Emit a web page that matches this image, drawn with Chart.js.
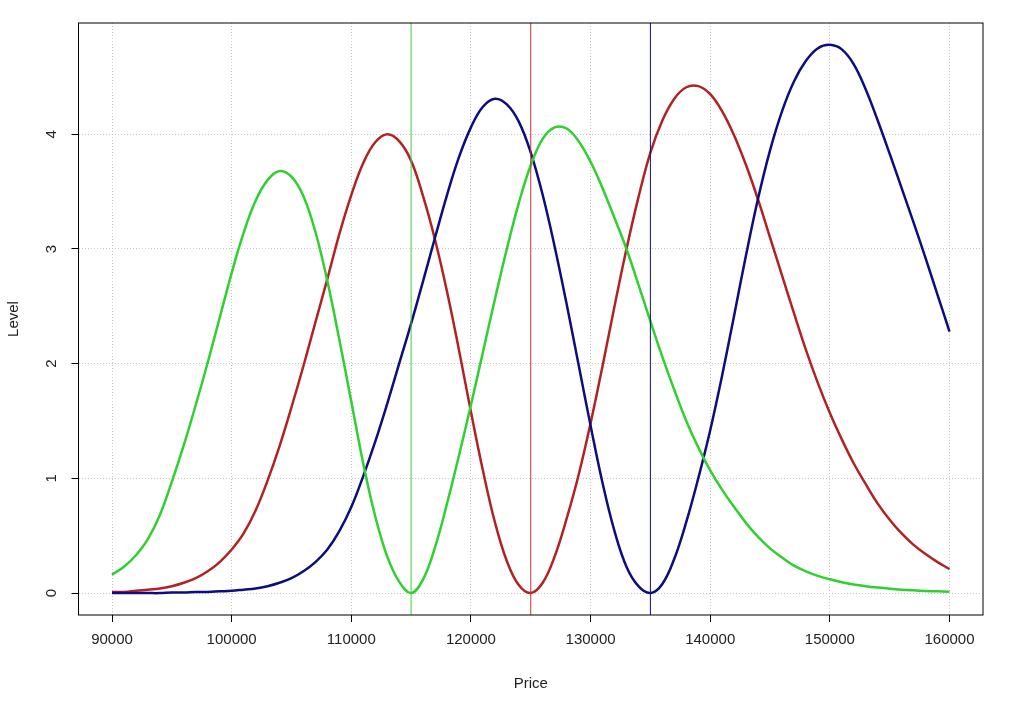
<!DOCTYPE html>
<html>
<head>
<meta charset="utf-8">
<title>Level by Price</title>
<script src="https://cdn.jsdelivr.net/npm/chart.js@4"></script>
<style>
    html, body { margin: 0; padding: 0; background: #ffffff; }
    canvas { display: block; }
</style>
</head>
<body>
<canvas id="levelChart" width="1024" height="713"></canvas>
<script>
/** Level curves by price. */

const prices = [
    90000, 91000, 92000, 93000, 94000, 95000, 96000, 97000, 98000, 99000,
    100000, 101000, 102000, 103000, 104000, 105000, 106000, 107000, 108000, 109000,
    110000, 111000, 112000, 113000, 114000, 115000, 116000, 117000, 118000, 119000,
    120000, 121000, 122000, 123000, 124000, 125000, 126000, 127000, 128000, 129000,
    130000, 131000, 132000, 133000, 134000, 135000, 136000, 137000, 138000, 139000,
    140000, 141000, 142000, 143000, 144000, 145000, 146000, 147000, 148000, 149000,
    150000, 151000, 152000, 153000, 154000, 155000, 156000, 157000, 158000, 159000,
    160000
];

const greenLevel = [
    0.16, 0.23, 0.33, 0.47, 0.68, 0.97, 1.29, 1.64, 2.01, 2.40,
    2.79, 3.14, 3.42, 3.60, 3.68, 3.63, 3.46, 3.15, 2.72, 2.21,
    1.67, 1.13, 0.67, 0.32, 0.10, 0.00, 0.12, 0.40, 0.78, 1.20,
    1.64, 2.10, 2.56, 3.00, 3.40, 3.73, 3.96, 4.06, 4.05, 3.94,
    3.76, 3.53, 3.27, 3.00, 2.69, 2.37, 2.06, 1.77, 1.50, 1.27,
    1.07, 0.90, 0.75, 0.61, 0.49, 0.39, 0.31, 0.24, 0.19, 0.15,
    0.12, 0.095, 0.075, 0.06, 0.048, 0.038, 0.03, 0.024, 0.019, 0.015,
    0.012
];

const redLevel = [
    0.01, 0.01, 0.02, 0.03, 0.04, 0.06, 0.09, 0.13, 0.19, 0.27,
    0.38, 0.52, 0.72, 0.98, 1.28, 1.62, 1.98, 2.36, 2.74, 3.13,
    3.47, 3.75, 3.93, 4.00, 3.94, 3.77, 3.46, 3.08, 2.63, 2.12,
    1.58, 1.07, 0.62, 0.28, 0.07, 0.00, 0.09, 0.32, 0.65, 1.03,
    1.48, 1.98, 2.50, 3.00, 3.45, 3.84, 4.12, 4.31, 4.41, 4.42,
    4.35, 4.20, 3.99, 3.73, 3.43, 3.10, 2.77, 2.44, 2.12, 1.83,
    1.57, 1.34, 1.13, 0.95, 0.78, 0.64, 0.52, 0.42, 0.34, 0.27,
    0.21
];

const blueLevel = [
    0.00, 0.00, 0.00, 0.00, 0.00, 0.005, 0.005, 0.01, 0.01, 0.015,
    0.02, 0.03, 0.04, 0.06, 0.09, 0.13, 0.19, 0.27, 0.38, 0.54,
    0.75, 1.02, 1.32, 1.65, 2.00, 2.35, 2.72, 3.10, 3.47, 3.80,
    4.06, 4.24, 4.31, 4.26, 4.11, 3.84, 3.47, 3.02, 2.52, 1.99,
    1.46, 0.96, 0.54, 0.23, 0.06, 0.00, 0.08, 0.30, 0.62, 1.00,
    1.42, 1.90, 2.42, 2.95, 3.44, 3.86, 4.20, 4.46, 4.64, 4.75,
    4.78, 4.74, 4.61, 4.39, 4.12, 3.83, 3.53, 3.23, 2.92, 2.60,
    2.28
];

const markerPrices = [115000, 125000, 135000];
const xTicks = [90000, 100000, 110000, 120000, 130000, 140000, 150000, 160000];
const yTicks = [0, 1, 2, 3, 4];

const GREEN = '#2fd02f';
const RED = '#b22222';
const BLUE = '#0d0d80';
const FONT = '"Liberation Sans", Arial, sans-serif';

/**
 * Pairs the price list with one level series.
 * @param {Array<number>} levels - Level for each price.
 * @returns list of {x, y} points.
 */
function toPoints(levels) {
    return prices.map((price, i) => ({ x: price, y: levels[i] }));
}

/**
 * Builds a curve dataset.
 */
function curve(label, levels, color) {
    return {
        label,
        data: toPoints(levels),
        borderColor: color,
        borderWidth: 2.5,
        pointRadius: 0,
        tension: 0.4,
    };
}

/**
 * Builds a vertical marker line running across the whole plot.
 */
function marker(price, color) {
    return {
        label: 'marker ' + price,
        data: [{ x: price, y: -1 }, { x: price, y: 6 }],
        borderColor: color,
        borderWidth: 1,
        pointRadius: 0,
    };
}

/** Box, rotated y labels and axis titles, drawn the way base R does. */
const framePlugin = {
    id: 'frame',
    beforeDraw(chart) {
        const ctx = chart.ctx;
        ctx.save();
        ctx.fillStyle = '#ffffff';
        ctx.fillRect(0, 0, chart.width, chart.height);
        ctx.restore();
    },
    afterDraw(chart) {
        const { ctx, chartArea } = chart;
        const yScale = chart.scales.y;
        ctx.save();
        ctx.strokeStyle = '#000000';
        ctx.lineWidth = 1;
        ctx.strokeRect(chartArea.left, chartArea.top,
            chartArea.right - chartArea.left, chartArea.bottom - chartArea.top);

        ctx.fillStyle = '#222222';
        ctx.font = '15px ' + FONT;
        ctx.textAlign = 'center';
        ctx.textBaseline = 'middle';
        yTicks.forEach(value => {
            ctx.save();
            ctx.translate(52, yScale.getPixelForValue(value));
            ctx.rotate(-Math.PI / 2);
            ctx.fillText(String(value), 0, 0);
            ctx.restore();
        });

        ctx.fillText('Price', (chartArea.left + chartArea.right) / 2, 684);
        ctx.save();
        ctx.translate(14, (chartArea.top + chartArea.bottom) / 2);
        ctx.rotate(-Math.PI / 2);
        ctx.fillText('Level', 0, 0);
        ctx.restore();
        ctx.restore();
    }
};

const gridStyle = {
    color: '#c8c8c8',
    lineWidth: 1,
    tickColor: '#000000',
    tickLength: 7,
    tickWidth: 1,
    tickBorderDash: [],
};

function main() {
    const context = document.getElementById('levelChart');
    new Chart(context, {
        type: 'line',
        data: {
            datasets: [
                marker(markerPrices[0], '#3fcf3f'),
                marker(markerPrices[1], '#c83030'),
                marker(markerPrices[2], BLUE),
                curve('green', greenLevel, GREEN),
                curve('blue', blueLevel, BLUE),
                curve('red', redLevel, RED),
            ]
        },
        options: {
            responsive: false,
            animation: false,
            events: [],
            layout: { padding: { top: 23, right: 41, left: 0, bottom: 0 } },
            plugins: {
                legend: { display: false },
                tooltip: { enabled: false },
            },
            scales: {
                x: {
                    type: 'linear',
                    min: 87200,
                    max: 162800,
                    afterBuildTicks: scale => { scale.ticks = xTicks.map(v => ({ value: v })); },
                    afterFit: scale => { scale.height = 98; },
                    grid: gridStyle,
                    border: { display: false, dash: [1, 2] },
                    ticks: {
                        maxRotation: 0,
                        padding: 9,
                        color: '#222222',
                        font: { family: FONT, size: 15 },
                        callback: value => String(value),
                    },
                },
                y: {
                    type: 'linear',
                    min: -0.191,
                    max: 4.97,
                    afterBuildTicks: scale => { scale.ticks = yTicks.map(v => ({ value: v })); },
                    afterFit: scale => { scale.width = 78.5; },
                    grid: gridStyle,
                    border: { display: false, dash: [1, 2] },
                    ticks: {
                        color: 'rgba(0,0,0,0)',
                        font: { family: FONT, size: 15 },
                    },
                },
            },
        },
        plugins: [framePlugin],
    });
}

window.onload = main;
</script>
</body>
</html>
